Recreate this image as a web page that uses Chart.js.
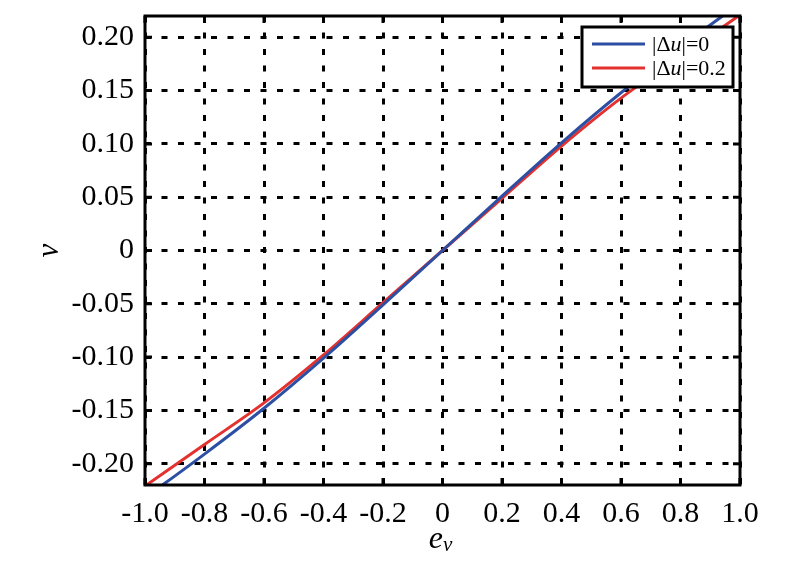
<!DOCTYPE html>
<html>
<head>
<meta charset="utf-8">
<script src="https://cdn.jsdelivr.net/npm/chart.js@4"></script>
<style>
  body { margin: 0; background: #fff; }
  canvas { display: block; }
</style>
</head>
<body>
<canvas id="chart" width="796" height="568"></canvas>
<script>
// values
const xValues = [-1.0, -0.8, -0.6, -0.4, -0.2, 0, 0.2, 0.4, 0.6, 0.8, 1.0];
const blueValues = [-0.232, -0.191, -0.148, -0.101, -0.051, 0, 0.051, 0.101, 0.148, 0.191, 0.232];
const redValues = [-0.221, -0.182, -0.143, -0.098, -0.049, 0, 0.049, 0.098, 0.143, 0.182, 0.221];

const xTicks = [-1.0, -0.8, -0.6, -0.4, -0.2, 0, 0.2, 0.4, 0.6, 0.8, 1.0];
const yTicks = [-0.20, -0.15, -0.10, -0.05, 0, 0.05, 0.10, 0.15, 0.20];

const seriesNames = ['0', '0.2'];
const seriesColors = ['#2c4fa3', '#e3312f'];

const serif = '"Liberation Serif", "Times New Roman", serif';

function toPoints(values) {
  return xValues.map((x, i) => ({ x: x, y: values[i] }));
}

// frame, inward ticks, legend and axis titles
const decorations = {
  id: 'decorations',
  afterDatasetsDraw(chart) {
    const { ctx, chartArea: a, scales: { x, y } } = chart;
    ctx.save();
    ctx.strokeStyle = '#000';
    ctx.setLineDash([]);
    ctx.lineWidth = 3;
    ctx.beginPath();
    xTicks.forEach((v) => {
      const px = x.getPixelForValue(v);
      ctx.moveTo(px, a.bottom); ctx.lineTo(px, a.bottom - 7);
      ctx.moveTo(px, a.top); ctx.lineTo(px, a.top + 7);
    });
    yTicks.forEach((v) => {
      const py = y.getPixelForValue(v);
      ctx.moveTo(a.left, py); ctx.lineTo(a.left + 7, py);
      ctx.moveTo(a.right, py); ctx.lineTo(a.right - 7, py);
    });
    ctx.stroke();
    ctx.lineWidth = 3;
    ctx.strokeRect(a.left, a.top, a.right - a.left, a.bottom - a.top);

    // legend
    const bx = a.right - 158, by = a.top + 11, bw = 151, bh = 60;
    ctx.fillStyle = '#fff';
    ctx.fillRect(bx, by, bw, bh);
    ctx.lineWidth = 3;
    ctx.strokeRect(bx, by, bw, bh);
    seriesNames.forEach((name, i) => {
      const ly = by + 17 + i * 24;
      ctx.strokeStyle = seriesColors[i];
      ctx.lineWidth = 3;
      ctx.beginPath();
      ctx.moveTo(bx + 10, ly); ctx.lineTo(bx + 63, ly);
      ctx.stroke();
      ctx.fillStyle = '#000';
      ctx.textBaseline = 'middle';
      let tx = bx + 70;
      const parts = [['|\u0394', ''], ['u', 'italic '], ['|=' + name, '']];
      parts.forEach(([t, st]) => {
        ctx.font = st + '22px ' + serif;
        ctx.fillText(t, tx, ly + 1);
        tx += ctx.measureText(t).width;
      });
    });

    // x axis title: e with subscript v
    ctx.fillStyle = '#000';
    ctx.textBaseline = 'alphabetic';
    ctx.font = 'italic 32px ' + serif;
    const cx = (a.left + a.right) / 2;
    const ew = ctx.measureText('e').width;
    ctx.font = 'italic 21px ' + serif;
    const vw = ctx.measureText('v').width;
    ctx.font = 'italic 32px ' + serif;
    ctx.fillText('e', cx - (ew + vw) / 2 - 2, 548);
    ctx.font = 'italic 21px ' + serif;
    ctx.fillText('v', cx - (ew + vw) / 2 - 2 + ew, 551);

    // y axis title
    ctx.save();
    ctx.translate(58, (a.top + a.bottom) / 2);
    ctx.rotate(-Math.PI / 2);
    ctx.font = 'italic 31px ' + serif;
    ctx.textAlign = 'center';
    ctx.fillText('v', 0, 0);
    ctx.restore();
    ctx.restore();
  }
};

const ctx = document.getElementById('chart').getContext('2d');

new Chart(ctx, {
  type: 'line',
  data: {
    datasets: [
      {
        label: '|\u0394u|=' + seriesNames[0],
        data: toPoints(blueValues),
        borderColor: seriesColors[0],
        borderWidth: 3,
        pointRadius: 0,
        cubicInterpolationMode: 'monotone',
        clip: 0,
      },
      {
        label: '|\u0394u|=' + seriesNames[1],
        data: toPoints(redValues),
        borderColor: seriesColors[1],
        borderWidth: 3,
        pointRadius: 0,
        cubicInterpolationMode: 'monotone',
        clip: 0,
      },
    ],
  },
  options: {
    responsive: false,
    animation: false,
    devicePixelRatio: 1,
    layout: { padding: { left: 0, right: 56, top: 16, bottom: 0 } },
    plugins: {
      legend: { display: false },
      tooltip: { enabled: false },
    },
    scales: {
      x: {
        type: 'linear',
        min: -1,
        max: 1,
        afterBuildTicks: (scale) => { scale.ticks = xTicks.map((v) => ({ value: v })); },
        afterFit: (scale) => {
          scale.height = 83;
          scale.paddingLeft = 0;
          scale.paddingRight = 0;
        },
        grid: { color: '#000', lineWidth: 3, drawTicks: false },
        border: { display: false, dash: [6, 10.5] },
        ticks: {
          color: '#000',
          padding: 11,
          maxRotation: 0,
          font: { family: serif, size: 30 },
          callback: (v) => (v === 0 ? '0' : v.toFixed(1)),
        },
      },
      y: {
        type: 'linear',
        min: -0.22,
        max: 0.22,
        afterBuildTicks: (scale) => { scale.ticks = yTicks.map((v) => ({ value: v })); },
        afterFit: (scale) => {
          scale.width = 145;
          scale.paddingTop = 0;
          scale.paddingBottom = 0;
        },
        grid: { color: '#000', lineWidth: 3, drawTicks: false },
        border: { display: false, dash: [6, 10.5] },
        ticks: {
          color: '#000',
          padding: 11,
          font: { family: serif, size: 30 },
          callback: (v) => (Math.abs(v) < 1e-9 ? '0' : v.toFixed(2)),
        },
      },
    },
  },
  plugins: [decorations],
});
</script>
</body>
</html>
